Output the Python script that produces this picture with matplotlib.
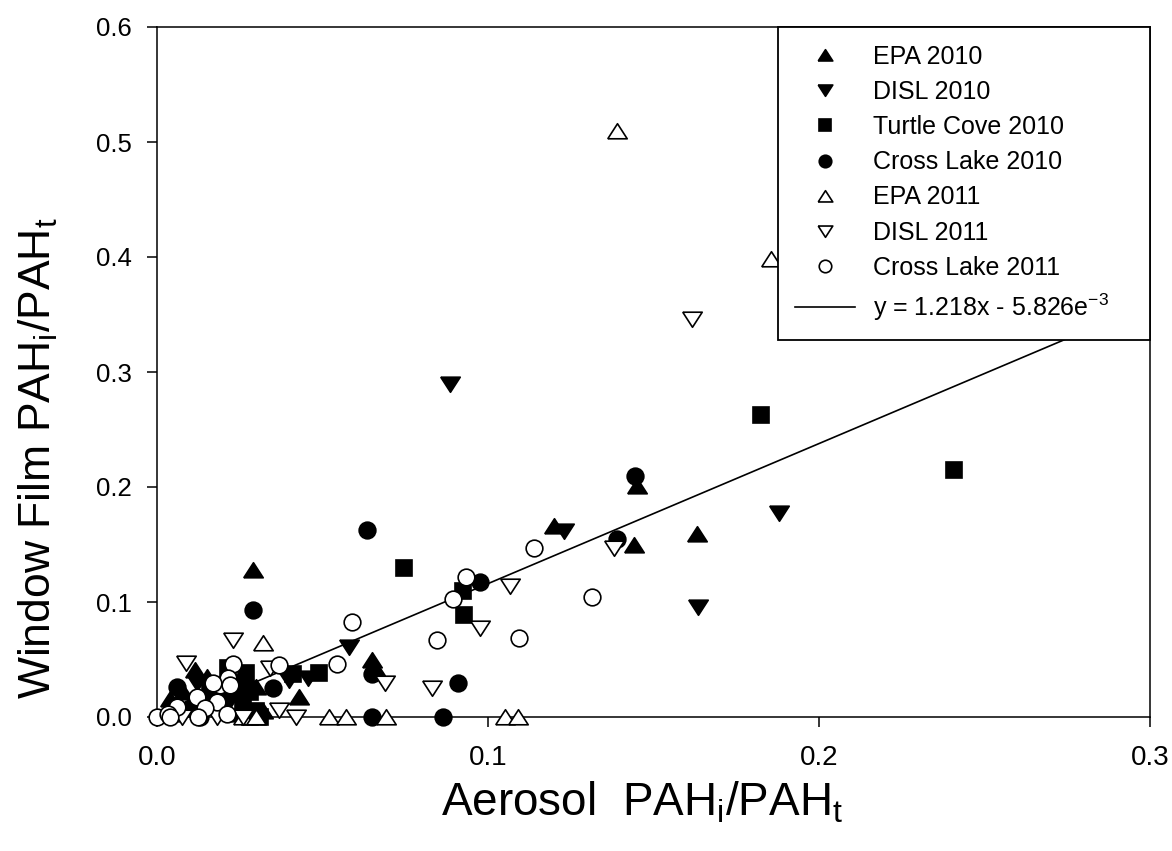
import matplotlib
matplotlib.use("Agg")
import matplotlib.pyplot as plt
import numpy as np

plt.rcParams["font.family"] = ["Liberation Sans", "DejaVu Sans"]
plt.rcParams["mathtext.default"] = "regular"

# regression reported on the chart
slope = 1.218
intercept = -5.826e-3

epa_2010_x = [0.029, 0.0115, 0.004, 0.008, 0.030, 0.043, 0.065, 0.066, 0.120, 0.145, 0.144, 0.163, 0.015, 0.020, 0.032, 0.024, 0.025]
epa_2010_y = [0.128, 0.041, 0.016, 0.022, 0.026, 0.017, 0.050, 0.043, 0.166, 0.201, 0.150, 0.159, 0.035, 0.010, 0.005, 0.003, 0.020]

disl_2010_x = [0.0885, 0.123, 0.188, 0.1635, 0.058, 0.0456, 0.012, 0.022, 0.027, 0.040, 0.018]
disl_2010_y = [0.290, 0.162, 0.177, 0.096, 0.061, 0.034, 0.030, 0.015, 0.025, 0.032, 0.005]

turtle_2010_x = [0.1825, 0.2408, 0.0746, 0.0924, 0.0927, 0.041, 0.049, 0.0215, 0.027, 0.028, 0.030, 0.028, 0.031, 0.024, 0.016, 0.026]
turtle_2010_y = [0.263, 0.215, 0.130, 0.110, 0.089, 0.037, 0.038, 0.043, 0.038, 0.022, 0.005, 0.000, 0.000, 0.030, 0.025, 0.012]

cross_2010_x = [0.0634, 0.029, 0.0976, 0.1444, 0.139, 0.065, 0.091, 0.0864, 0.065, 0.035, 0.016, 0.010, 0.006, 0.020, 0.013]
cross_2010_y = [0.163, 0.093, 0.117, 0.210, 0.155, 0.037, 0.030, 0.000, 0.000, 0.025, 0.020, 0.008, 0.026, 0.012, 0.000]

epa_2011_x = [0.139, 0.1855, 0.032, 0.052, 0.057, 0.0693, 0.105, 0.109, 0.026, 0.030, 0.005]
epa_2011_y = [0.510, 0.398, 0.064, 0.000, 0.000, 0.000, 0.000, 0.000, 0.000, 0.000, 0.003]

disl_2011_x = [0.1616, 0.138, 0.1066, 0.0976, 0.069, 0.083, 0.023, 0.0088, 0.034, 0.037, 0.042, 0.0075, 0.018, 0.026]
disl_2011_y = [0.346, 0.147, 0.114, 0.077, 0.030, 0.025, 0.067, 0.047, 0.043, 0.006, 0.000, 0.000, 0.000, 0.000]

cross_2011_x = [0.1139, 0.0934, 0.0894, 0.1314, 0.059, 0.0846, 0.1094, 0.0544, 0.037, 0.023, 0.019, 0.0215, 0.022, 0.012, 0.018, 0.006, 0.0145, 0.0, 0.0033, 0.0124, 0.021, 0.004, 0.017]
cross_2011_y = [0.147, 0.122, 0.103, 0.104, 0.083, 0.067, 0.069, 0.046, 0.045, 0.046, 0.028, 0.034, 0.028, 0.017, 0.013, 0.009, 0.008, 0.0, 0.003, 0.000, 0.003, 0.000, 0.030]

xticks = [0.0, 0.1, 0.2, 0.3]
yticks = [0.0, 0.1, 0.2, 0.3, 0.4, 0.5, 0.6]

# squat triangles like the SigmaPlot symbols
tri_up = [(-1, -0.75), (1, -0.75), (0, 0.8), (-1, -0.75)]
tri_dn = [(-1, 0.75), (1, 0.75), (0, -0.8), (-1, 0.75)]

fig = plt.figure(figsize=(11.72, 8.51), dpi=100)
ax = fig.add_axes([157 / 1172, 1 - 717 / 851, (1150 - 157) / 1172, (717 - 27) / 851])

xs = np.array([0.0, 0.3])
(line_handle,) = ax.plot(xs, slope * xs + intercept, color="black", linewidth=1.2, zorder=2,
                         label="y = 1.218x - 5.826e$^{-3}$")

series = [
    (epa_2010_x, epa_2010_y, tri_up, "black", 14, "EPA 2010"),
    (disl_2010_x, disl_2010_y, tri_dn, "black", 14, "DISL 2010"),
    (turtle_2010_x, turtle_2010_y, "s", "black", 11.5, "Turtle Cove 2010"),
    (cross_2010_x, cross_2010_y, "o", "black", 12, "Cross Lake 2010"),
    (epa_2011_x, epa_2011_y, tri_up, "white", 14, "EPA 2011"),
    (disl_2011_x, disl_2011_y, tri_dn, "white", 14, "DISL 2011"),
    (cross_2011_x, cross_2011_y, "o", "white", 12, "Cross Lake 2011"),
]
handles = []
for i, (x, y, m, fc, ms, lab) in enumerate(series):
    (h,) = ax.plot(x, y, linestyle="none", marker=m, markersize=ms,
                   markerfacecolor=fc, markeredgecolor="black",
                   markeredgewidth=1.2, label=lab, zorder=3 + i, clip_on=False)
    handles.append(h)

ax.set_xlim(0, 0.3)
ax.set_ylim(0, 0.6)
ax.set_xticks(xticks)
ax.set_yticks(yticks)
ax.set_xticklabels([f"{v:.1f}" for v in xticks])
ax.set_yticklabels([f"{v:.1f}" for v in yticks])
ax.tick_params(direction="out", length=7, width=1.1)
ax.tick_params(axis="x", labelsize=20, pad=13)
ax.tick_params(axis="y", labelsize=18.5, pad=11)
for sp in ax.spines.values():
    sp.set_linewidth(1.1)

ax.set_xlabel("Aerosol  PAH$_{i}$/PAH$_{t}$", fontsize=33)
ax.xaxis.set_label_coords(0.489, -0.092)
ax.set_ylabel("Window Film PAH$_{i}$/PAH$_{t}$", fontsize=32)
ax.yaxis.set_label_coords(-0.098, 0.375)

all_handles = handles + [line_handle]
leg = ax.legend(all_handles, [h.get_label() for h in all_handles],
                loc="upper left", bbox_to_anchor=(0.625, 0.0, 0.375, 1.0), mode="expand",
                borderaxespad=0, fontsize=18, frameon=True, fancybox=False, framealpha=1,
                edgecolor="black", markerscale=0.75, handlelength=2.4,
                handletextpad=0.72, labelspacing=0.45, borderpad=0.7)
leg.get_frame().set_linewidth(1.3)
leg.set_zorder(20)

fig.savefig("out.png", dpi=100)
